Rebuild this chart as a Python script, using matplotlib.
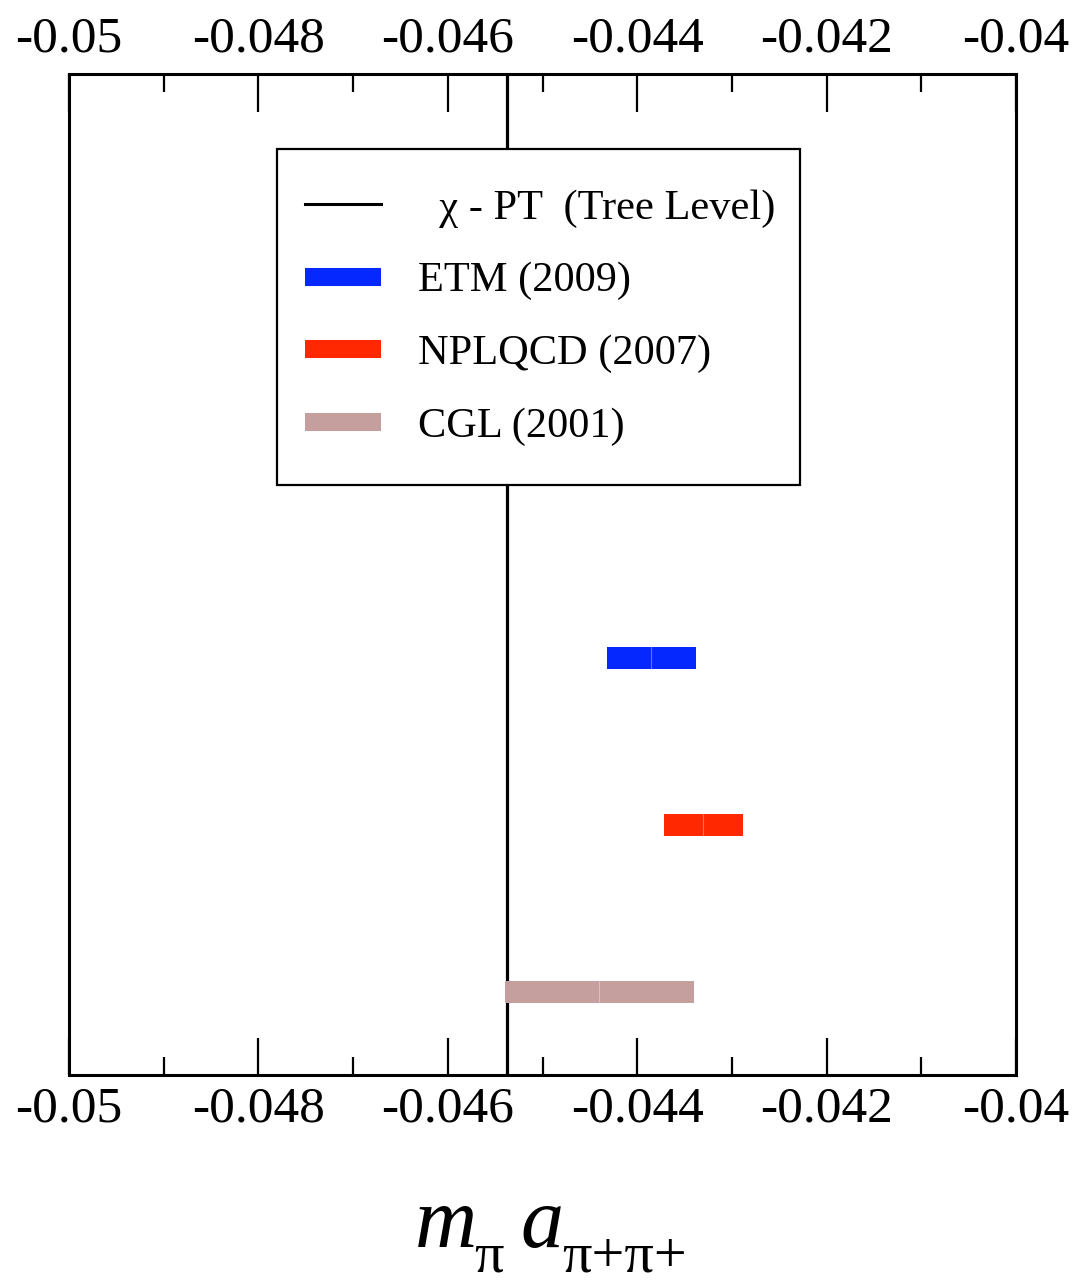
import matplotlib
matplotlib.use('Agg')
import matplotlib.pyplot as plt
from matplotlib.lines import Line2D
from matplotlib.patches import Rectangle
import numpy as np

plt.rcParams['font.family'] = ['Liberation Serif', 'DejaVu Serif']
plt.rcParams['axes.unicode_minus'] = False

# scattering length results m_pi * a (central value, error)
groups = ['ETM (2009)', 'NPLQCD (2007)', 'CGL (2001)']
values = [-0.04385, -0.04330, -0.0444]
errors = [0.00047, 0.00042, 0.0010]
ypos = [2.5, 1.5, 0.5]
colors = ['#0528FF', '#FF2800', '#C59E9E']

tree_level = -0.04538
tree_label = '  χ - PT  (Tree Level)'

xticks = [-0.05, -0.048, -0.046, -0.044, -0.042, -0.04]
xticklabels = ['-0.05', '-0.048', '-0.046', '-0.044', '-0.042', '-0.04']

fig = plt.figure(figsize=(10.8, 12.87), dpi=100)
ax = fig.add_axes([69/1080, 1-1075/1287, 947/1080, 1001/1287])

ax.axvline(tree_level, color='black', lw=2.3, zorder=2)

bh = 0.132
for v, e, y, c in zip(values, errors, ypos, colors):
    # two halves, so the central value shows as a faint seam
    ax.barh(y, e, left=v-e, height=bh, color=c, linewidth=0, zorder=3)
    ax.barh(y, e, left=v, height=bh, color=c, linewidth=0, zorder=3)
    ax.plot([v, v], [y-bh/2, y+bh/2], color='white', alpha=0.35, lw=0.8, zorder=4)

ax.set_xlim(-0.05, -0.04)
ax.set_ylim(0, 6)
ax.set_xticks(xticks)
ax.set_xticklabels(xticklabels)
ax.set_xticks(np.arange(-0.049, -0.0405, 0.002), minor=True)
ax.set_yticks([])
ax.tick_params(axis='x', which='both', direction='in', top=True, bottom=True,
               labeltop=True, labelbottom=True, labelsize=37, pad=8, width=1.6)
ax.tick_params(axis='x', which='major', length=27)
ax.tick_params(axis='x', which='minor', length=13)
for s in ax.spines.values():
    s.set_linewidth(2.2)

# legend box drawn separately so the padding can differ per side
box = Rectangle((208/947, 590/1001), 523/947, 336/1001, transform=ax.transAxes,
                facecolor='white', edgecolor='black', lw=1.6, zorder=9)
ax.add_patch(box)

handles = [Line2D([], [], color='black', lw=2.2)]
handles += [Line2D([], [], color=c, lw=13, solid_capstyle='butt') for c in colors]
leg = ax.legend(handles, [tree_label] + groups, loc='upper left',
                bbox_to_anchor=(196/947, 926/1001), borderaxespad=0,
                fontsize=30.5, frameon=False, handlelength=1.8, handletextpad=0.85,
                labelspacing=0.8, borderpad=0.95)
leg.set_zorder(10)

# axis title built from pieces: m_pi a_{pi+pi+}
W, H = 1080, 1287
fig.text(415/W, 1-1247/H, 'm', fontsize=62, style='italic', va='baseline')
fig.text(474/W, 1-1272/H, 'π', fontsize=42, va='baseline')
fig.text(520/W, 1-1247/H, 'a', fontsize=62, style='italic', va='baseline')
fig.text(562/W, 1-1272/H, 'π+π+', fontsize=42, va='baseline')

fig.savefig('out.png', dpi=100)
